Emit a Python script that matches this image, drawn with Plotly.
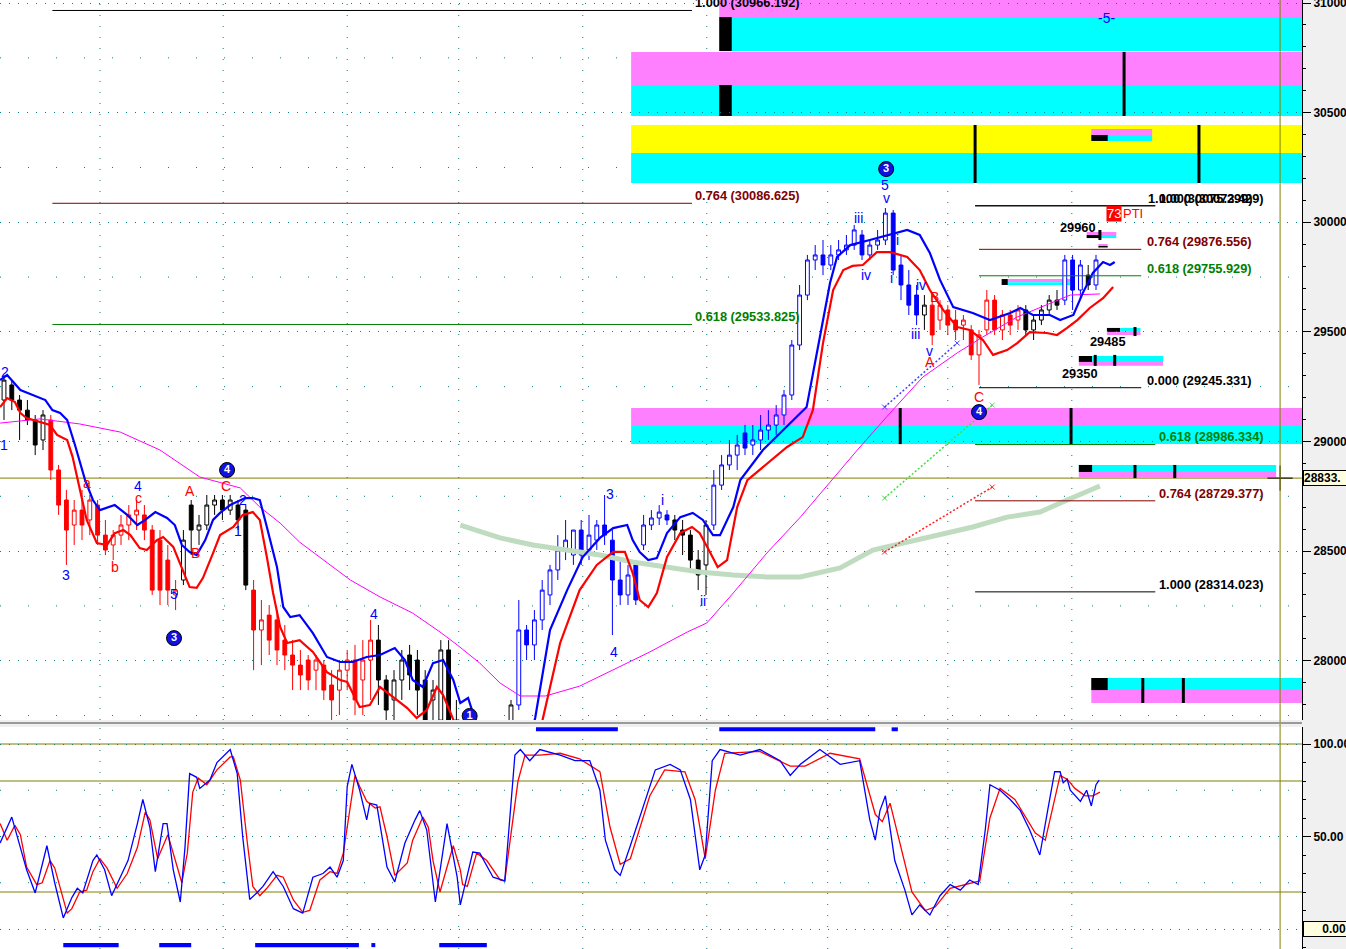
import plotly.graph_objects as go

# ---------------- price bars (bar index 0..140) ----------------
bar_open = [29189,29258,29189,29143,29098,29007,29098,28870,28733,28619,
            28687,28642,28710,28573,28528,28573,28619,28665,28665,28596,
            28550,28459,28300,28368,28710,28596,28619,28710,28733,28687,
            28710,28687,28322,28140,28208,28186,28094,28026,27980,28003,
            27957,27980,27889,27866,27957,28003,27912,28003,28094,27912,
            27821,27912,28026,28003,27912,27821,27729,28049,27729,27638,
            27547,27501,27524,27547,27593,27661,27798,28140,28072,28186,
            28300,28414,28505,28482,28596,28505,28550,28619,28550,28368,
            28300,28437,28528,28619,28651,28665,28642,28596,28573,28459,
            28437,28619,28801,28893,28938,29039,28984,29007,29052,29075,
            29121,29212,29440,29668,29828,29851,29805,29851,29874,29896,
            29942,29851,29896,29919,30042,29805,29714,29668,29577,29622,
            29554,29600,29554,29531,29509,29395,29509,29645,29509,29577,
            29554,29600,29509,29554,29600,29645,29645,29828,29691,29759,
            29714]
bar_high = [29303,29280,29212,29189,29121,29143,29121,28893,28779,28733,
            28779,28756,28733,28642,28596,28665,28710,28733,28710,28619,
            28596,28528,28368,28596,28733,28665,28756,28756,28756,28756,
            28733,28710,28368,28277,28254,28231,28163,28094,28049,28026,
            28026,28003,27957,28003,28049,28072,28094,28186,28163,27935,
            27957,28049,28072,28049,27957,27912,28094,28094,27821,27684,
            27593,27593,27615,27638,27707,27821,28277,28163,28231,28368,
            28437,28573,28642,28596,28642,28665,28642,28756,28596,28459,
            28437,28459,28665,28687,28710,28687,28665,28642,28596,28505,
            28642,28870,28938,29007,29030,29075,29075,29121,29143,29166,
            29235,29463,29714,29851,29896,29919,29896,29919,29942,29988,
            29965,29919,29965,30065,30056,29851,29782,29714,29668,29668,
            29645,29622,29600,29577,29531,29509,29691,29668,29600,29600,
            29622,29622,29577,29622,29668,29691,29851,29851,29828,29805,
            29851]
bar_low = [29098,29143,29007,29075,28938,28961,28824,28665,28437,28528,
           28550,28573,28528,28482,28459,28528,28550,28596,28550,28300,
           28254,28254,28231,28345,28482,28528,28596,28665,28642,28665,
           28596,28322,27957,27980,28026,27980,27957,27866,27866,27866,
           27866,27821,27729,27752,27866,27752,27752,27821,27798,27729,
           27729,27821,27866,27752,27707,27729,27684,27638,27547,27456,
           27410,27410,27433,27456,27547,27615,27775,28003,28003,28140,
           28254,28368,28459,28437,28437,28459,28505,28528,28117,28254,
           28254,28254,28505,28596,28619,28619,28550,28482,28414,28322,
           28300,28596,28779,28870,28870,28938,28938,28961,29007,29030,
           29075,29189,29417,29645,29782,29759,29782,29828,29851,29874,
           29828,29828,29874,29896,29759,29645,29577,29531,29509,29440,
           29509,29486,29463,29463,29372,29258,29486,29486,29463,29486,
           29509,29486,29463,29531,29577,29600,29622,29600,29645,29691,
           29691]
bar_close = [29280,29189,29143,29098,28984,29121,28870,28710,28596,28687,
             28619,28733,28573,28505,28573,28619,28665,28687,28596,28322,
             28322,28322,28322,28550,28596,28619,28710,28733,28687,28733,
             28642,28345,28140,28186,28094,28049,28026,27980,27935,27912,
             28003,27866,27821,27957,28003,27821,28003,28094,27912,27775,
             27912,28003,27935,27866,27729,27866,28049,27729,27638,27547,
             27501,27547,27570,27593,27661,27798,28140,28072,28186,28322,
             28414,28505,28550,28596,28482,28573,28619,28573,28368,28300,
             28391,28277,28619,28651,28678,28642,28596,28573,28459,28391,
             28619,28801,28893,28938,28984,28970,29007,29052,29075,29121,
             29212,29440,29668,29828,29851,29805,29851,29874,29896,29965,
             29851,29896,29919,30042,29782,29714,29622,29577,29622,29486,
             29622,29531,29509,29554,29395,29486,29645,29509,29577,29531,
             29600,29509,29554,29600,29645,29622,29828,29691,29805,29714,
             29828]
group_runs = [("K", 6), ("R", 17), ("K", 9), ("R", 16), ("K", 18), ("B", 20), ("K", 5),
              ("B", 27), ("K", 1), ("R", 12), ("K", 5), ("B", 3), ("K", 1), ("B", 1)]

# ---------------- overlay averages ----------------
ma_fast_idx = [-0.5,0.4,2.1,3.7,5.3,6.2,7.2,8.1,9.1,10.4,11.4,12.3,14.2,15.8,17.1,18.1,19.4,20.9,21.9,22.8,
               23.8,24.7,25.8,26.8,27.7,29.0,30.9,31.9,32.8,33.7,35.0,35.8,36.7,37.9,39.6,41.4,43.1,44.7,46.5,48.2,
               50.1,51.4,52.4,53.7,55.0,56.3,57.6,58.5,59.5,60.0,62.3,66.2,68.1,70.0,72.2,74.2,76.4,78.1,79.9,80.6,
               81.5,82.6,83.7,85.0,86.7,88.3,89.6,90.9,91.8,93.5,94.4,97.3,99.9,102.9,104.6,105.9,106.8,108.5,111.0,113.6,
               115.8,117.4,118.7,120.0,121.7,124.2,126.4,129.0,130.3,131.9,134.1,135.4,137.1,138.3,139.6,140.9,141.8,142.4]
ma_fast = [29280,29303,29235,29212,29189,29143,29130,29098,28984,28824,28733,28687,28710,28665,28619,28642,28678,28651,28619,28528,
           28496,28482,28550,28642,28674,28710,28742,28742,28733,28610,28427,28245,28199,28208,28126,28017,27994,27994,28017,28026,
           28058,28003,27912,27880,27989,28003,27912,27807,27830,27775,27547,27456,27739,28140,28322,28473,28560,28605,28619,28550,
           28496,28459,28468,28582,28655,28674,28642,28573,28573,28701,28824,28961,29052,29157,29477,29723,29842,29896,29919,29942,
           29965,29942,29860,29737,29613,29586,29554,29586,29609,29577,29577,29554,29577,29677,29769,29819,29805,29819]
ma_slow_idx = [-0.5,0.4,1.4,2.1,2.9,4.6,5.9,6.8,8.1,8.8,9.7,10.6,11.9,13.2,14.2,15.3,16.2,17.4,18.3,19.6,
               20.4,21.7,22.9,23.8,24.7,25.5,26.8,27.7,29.4,30.6,31.9,32.8,33.7,34.5,35.4,36.3,37.9,39.6,41.4,43.1,
               44.0,45.6,46.9,48.2,49.9,51.7,52.9,54.2,55.5,56.3,57.2,59.7,63.6,67.4,69.1,71.3,73.8,76.0,78.1,79.6,
               80.6,81.5,82.6,83.7,85.0,86.7,88.2,89.2,90.5,91.5,92.7,94.0,95.3,100.4,102.4,103.7,105.0,106.3,107.6,108.8,
               110.1,111.9,113.6,115.8,117.4,118.7,120.4,122.2,123.8,125.5,126.8,128.6,129.9,131.5,133.7,135.0,136.3,137.6,139.2,140.9,
               142.2]
ma_slow = [29157,29198,29180,29130,29107,29089,29075,29030,29007,28929,28792,28642,28537,28528,28582,28596,28573,28514,28505,28550,
           28564,28519,28414,28336,28332,28377,28491,28573,28610,28665,28678,28642,28473,28309,28154,28081,28094,28040,27948,27912,
           27903,27789,27798,27880,27834,27784,27739,27775,27880,27843,27766,27547,27364,27456,27739,28081,28322,28437,28496,28496,
           28400,28277,28245,28309,28473,28582,28610,28582,28496,28427,28459,28701,28824,28975,29020,29143,29449,29691,29782,29801,
           29805,29864,29864,29842,29782,29691,29600,29522,29509,29463,29395,29417,29449,29499,29495,29486,29518,29554,29609,29654,
           29705]
ma_long_idx = [-0.5,4.6,9.7,14.9,20.0,25.1,30.3,32.8,35.4,37.9,44.4,48.2,52.4,55.9,58.1,61.0,63.6,66.2,69.4,73.8,
               78.6,82.8,87.6,90.1,93.5,97.8,102.1,109.4,113.6,117.8,122.2,125.5,129.9,134.1,136.7,140.5]
ma_long = [29084,29103,29080,29043,28961,28838,28788,28701,28628,28541,28368,28291,28217,28131,28072,27989,27898,27839,27839,27884,
           27967,28040,28131,28172,28309,28491,28655,28961,29130,29294,29404,29477,29568,29632,29668,29673]
ma_trend_idx = [58.5,63.6,67.8,72.2,76.4,80.6,85.0,89.2,93.5,97.8,102.1,107.2,111.4,115.8,120.0,124.2,128.6,132.8,136.3,140.5]
ma_trend = [28619,28560,28528,28505,28482,28450,28427,28405,28391,28382,28382,28423,28505,28541,28573,28610,28655,28678,28733,28797]

# ---------------- stochastic ----------------
stoch_k_idx = [-0.5,1.0,2.1,2.9,4.0,4.6,5.5,6.5,7.6,8.7,9.4,10.1,11.4,11.9,12.9,13.8,14.9,15.9,17.1,17.8,
               18.7,19.4,20.4,20.9,21.7,22.6,23.2,23.8,24.7,25.1,26.4,27.3,29.0,29.9,30.6,31.5,32.4,33.2,34.5,35.8,
               37.1,38.3,39.6,40.9,41.8,42.7,43.5,44.0,44.6,45.6,46.5,46.9,47.8,49.1,50.1,51.4,52.7,53.3,54.2,55.3,
               56.8,58.1,58.5,60.1,61.0,62.7,64.2,65.5,66.2,67.4,68.7,71.3,73.2,75.1,76.4,77.1,78.3,79.0,80.3,82.2,
               83.5,85.4,86.7,88.0,89.2,89.9,90.8,91.8,94.4,96.9,99.5,100.8,102.1,104.6,107.2,109.7,111.0,111.7,112.3,113.0,
               114.2,115.5,116.4,117.4,118.7,120.0,121.3,122.6,123.8,124.9,125.8,126.4,127.7,129.0,130.3,131.5,132.8,133.8,134.7,135.4,
               135.8,136.3,136.7,138.0,138.8,139.4,140.0,140.4]
stoch_k = [46.5,60.5,44,32,19.5,30,45,25,6,17,22,19.5,37,40,32,18,28,37,57,70,
           55,31,57,57,32,14.6,44,84,82,76,80.5,90,97,84,50,16,19.5,23,31,23,
           11,8.6,28,30,33.5,28,37,77,89,75,59,68,67,33.5,25.5,46.5,59,64,53.5,14.6,
           57,28,13,41.6,41,28,26,94,97,91,97,94,91,91,75,48,32,29,45,70,
           86,89,86,70,32,40,91,97,94,97,91,83,89,97,89,91,59,48,64,72,
           37,21,7.6,13,7.6,18,24,21,26.5,24,53.5,78,75,70,64,53.5,40,64,85,85,
           79,81,75,69,75,66.5,78,80.5]
stoch_d_idx = [-0.5,0.4,1.4,2.1,2.9,4.2,4.9,5.9,6.5,7.4,8.1,8.7,9.7,10.6,11.4,12.3,13.2,14.5,15.8,17.1,
               18.1,18.7,19.7,21.0,21.7,22.8,23.5,24.2,24.9,26.0,27.3,29.0,29.4,30.3,31.2,31.9,32.8,33.7,35.0,35.8,
               37.1,38.3,39.2,40.5,41.8,42.7,43.5,44.4,45.0,45.6,46.5,47.6,48.2,49.1,50.1,51.7,52.4,53.7,54.4,55.0,
               55.9,56.8,57.6,58.5,58.8,59.4,60.6,61.9,63.6,64.2,65.9,66.8,68.7,71.3,73.8,76.4,77.7,79.0,80.3,82.8,
               84.7,87.3,88.6,89.9,91.2,92.4,96.9,100.8,102.7,105.9,109.7,111.7,112.6,113.6,114.9,116.4,118.1,119.4,121.3,123.2,
               125.1,126.4,127.7,129.6,132.2,133.5,135.4,136.3,137.3,138.6,139.6,140.5]
stoch_d = [57,48,56,51,33.5,24,25,37,33,19.5,8.6,11,20,21,31,38,33,22,30,44,
           63,59,38,51,41,25,41,74,81.6,78,86,93,93,80.5,46.5,23,18,22,29,28,
           15.7,9,10,26.5,31,30,41,66,83,77,69,65.4,66,50,29,35.7,48,60.5,55,37,
           20,33.5,45,32,24,23,41,37,26.5,26,80,94,94,95,92,85,55,35,38,72,
           86,85,70,38,75,95,96,88,88,95,92,62,58,68,45,20,10,12,22,24,
           26,60,76,70,52,48,83,81,76,72,72,74]

# ---------------- annotations: fib levels, zones, wave labels ----------------
fib_levels = [  # label, price, colour key, start idx, end idx, label idx
    ("1.000 (30966.192)", 30966.192, "k", 6.2, 88.2, 88.3),
    ("0.764 (30086.625)", 30086.625, "r", 6.2, 88.2, 88.3),
    ("0.618 (29533.825)", 29533.825, "g", 6.2, 88.2, 88.3),
    ("1.000 (30075.299)", 30075.299, "k", 124.5, 147.6, 146.4),
    ("1.000 (30073.429)", 30075.299, "k", 124.5, 147.6, 147.8),
    ("0.764 (29876.556)", 29876.556, "r", 125.0, 145.8, 146.3),
    ("0.618 (29755.929)", 29755.929, "g", 125.0, 145.8, 146.3),
    ("0.000 (29245.331)", 29245.331, "k", 125.0, 145.8, 146.3),
    ("0.618 (28986.334)", 28986.334, "g", 124.5, 147.6, 147.8),
    ("0.764 (28729.377)", 28729.377, "r", 124.5, 147.6, 147.8),
    ("1.000 (28314.023)", 28314.023, "k", 124.5, 147.6, 147.8),
]
zones = [  # x0, x1, low, high, colour key
    (91.7, 166.41, 30936, 31014, "p"), (91.7, 166.41, 30781, 30936, "c"), (91.7, 93.3, 30781, 30936, "k"),
    (80.4, 166.41, 30626, 30777, "p"), (80.4, 166.41, 30485, 30626, "c"), (91.7, 93.3, 30485, 30626, "k"),
    (80.4, 166.41, 30316, 30444, "y"), (80.4, 166.41, 30179, 30316, "c"),
    (139.4, 147.2, 30398, 30426, "p"), (139.4, 147.2, 30371, 30398, "c"), (139.4, 141.5, 30371, 30398, "k"),
    (80.4, 166.41, 29071, 29153, "p"), (80.4, 166.41, 28988, 29071, "c"),
    (137.8, 163.1, 28861, 28893, "c"), (137.8, 163.1, 28833, 28861, "p"), (137.8, 139.5, 28861, 28893, "k"),
    (139.4, 166.41, 27866, 27921, "c"), (139.4, 166.41, 27807, 27866, "p"), (139.4, 141.5, 27866, 27921, "k"),
    (141.4, 143.1, 29500, 29518, "k"), (143.1, 145.7, 29500, 29518, "c"), (141.4, 145.7, 29486, 29500, "p"),
    (137.8, 139.5, 29363, 29390, "k"), (139.5, 148.6, 29363, 29390, "c"), (137.8, 148.6, 29345, 29363, "p"),
    (138.8, 142.6, 29942, 29956, "p"), (138.8, 140.6, 29928, 29942, "k"), (140.6, 142.6, 29928, 29942, "c"),
    (140.3, 141.5, 29892, 29901, "p"), (140.3, 141.5, 29885, 29892, "k"),
    (127.9, 128.7, 29714, 29741, "k"), (128.7, 137.1, 29727, 29741, "p"), (128.7, 137.1, 29714, 29727, "c"),
]
zone_marks = [  # idx, low, high
    (143.6, 30485, 30777), (124.5, 30179, 30444), (153.2, 30179, 30444),
    (114.9, 28988, 29153), (136.8, 28988, 29153),
    (145.0, 28833, 28893), (150.1, 28833, 28893),
    (146.0, 27807, 27921), (151.2, 27807, 27921),
    (145.0, 29481, 29522), (139.9, 29345, 29395), (142.4, 29345, 29395), (140.5, 29919, 29965),
]
trend_rays = [  # x0, p0, x1, p1, colour
    (112.9, 29157, 122.2, 29449, "#4040ff"),
    (112.9, 28742, 126.7, 29166, "#40e040"),
    (112.9, 28496, 126.7, 28792, "#ff2020"),
]
wave_labels = [  # text, idx, price, colour key
    ("2", 0.1, 29317, "b"), ("1", 0.0, 28984, "b"), ("3", 7.9, 28391, "b"), ("4", 17.2, 28797, "b"),
    ("5", 21.8, 28304, "b"), ("2", 30.6, 28733, "b"), ("1", 30.0, 28591, "b"), ("4", 47.4, 28213, "b"),
    ("3", 77.7, 28760, "b"), ("4", 78.2, 28040, "b"), ("i", 84.4, 28733, "b"), ("ii", 89.6, 28272, "b"),
    ("iii", 109.5, 30019, "b"), ("iv", 110.5, 29759, "b"), ("5", 112.9, 30170, "b"), ("v", 113.1, 30111, "b"),
    ("i", 114.6, 29919, "b"), ("i", 113.8, 29746, "b"), ("iv", 117.5, 29714, "b"), ("iii", 116.8, 29490, "b"),
    ("v", 118.7, 29413, "b"), ("-5-", 141.3, 30932, "b"),
    ("a", 10.6, 28811, "r"), ("b", 14.2, 28427, "r"), ("c", 17.3, 28742, "r"), ("A", 23.8, 28774, "r"),
    ("B", 24.5, 28491, "r"), ("C", 28.5, 28797, "r"), ("B", 119.3, 29659, "r"), ("A", 118.7, 29363, "r"),
    ("C", 125.0, 29203, "r"),
]
wave_circles = [("3", 21.8, 28103), ("4", 28.6, 28870), ("1", 59.7, 27748), ("3", 113.1, 30243), ("4", 125.0, 29134)]
price_notes = [("29960", 140.3, 29978, "right"), ("29485", 141.5, 29458, "center"), ("29350", 137.9, 29308, "center")]
signal_bars_top = [(68.2, 78.7), (91.7, 111.7), (113.8, 114.6)]
signal_bars_bottom = [(7.6, 14.7), (19.9, 24.0), (32.2, 45.5), (47.1, 47.6), (55.8, 61.9)]
grid_idx = [12.3, 28.1, 44.0, 58.3, 74.2, 90.1, 105.6, 121.0, 136.9]
last_price = 28833
cursor_idx = 163.6

# ---------------- styling ----------------
COL = {"k": "#000000", "r": "#800000", "g": "#008000", "p": "#ff80ff", "c": "#00ffff", "y": "#ffff00",
       "b": "#0000ff"}
WAVE = {"b": "#0000ff", "r": "#ff0000"}
CANDLE = {"K": "#000000", "R": "#ff0000", "B": "#0000ff"}
TEAL = "#008080"
OLIVE = "#808000"
X_RANGE = [-0.513, 166.41]
P_RANGE = [27729.5, 31014]
S_RANGE = [-10.81, 109.19]
W, H = 1346, 949
PLOT_R = 1302

bar_group = []
for g, n in group_runs:
    bar_group += [g] * n

fig = go.Figure()

# averages under the bars
fig.add_trace(go.Scatter(x=ma_trend_idx, y=ma_trend, mode="lines", line=dict(color="#c0dcc0", width=5),
                         hoverinfo="skip", showlegend=False))
fig.add_trace(go.Scatter(x=ma_long_idx, y=ma_long, mode="lines", line=dict(color="#ff00ff", width=1),
                         hoverinfo="skip", showlegend=False))

for g, col in CANDLE.items():
    sel = [i for i in range(len(bar_close)) if bar_group[i] == g]
    fig.add_trace(go.Candlestick(
        x=sel, open=[bar_open[i] for i in sel], high=[bar_high[i] for i in sel],
        low=[bar_low[i] for i in sel], close=[bar_close[i] for i in sel],
        increasing=dict(line=dict(color=col, width=1), fillcolor="#ffffff"),
        decreasing=dict(line=dict(color=col, width=1), fillcolor=col),
        whiskerwidth=0, hoverinfo="skip", showlegend=False))

fig.add_trace(go.Scatter(x=ma_slow_idx, y=ma_slow, mode="lines", line=dict(color="#ff0000", width=2.2),
                         hoverinfo="skip", showlegend=False))
fig.add_trace(go.Scatter(x=ma_fast_idx, y=ma_fast, mode="lines", line=dict(color="#0000ff", width=2.2),
                         hoverinfo="skip", showlegend=False))

for x0, p0, x1, p1, c in trend_rays:
    fig.add_trace(go.Scatter(x=[x0, x1], y=[p0, p1], mode="lines+markers",
                             line=dict(color=c, width=1.5, dash="2px,2px"),
                             marker=dict(symbol="x-thin", size=5, line=dict(color=c, width=1)),
                             hoverinfo="skip", showlegend=False))

fig.add_trace(go.Scatter(x=[c[1] for c in wave_circles], y=[c[2] for c in wave_circles],
                         text=[c[0] for c in wave_circles], mode="markers+text",
                         marker=dict(size=15, color="#1010e0", line=dict(color="#000000", width=1)),
                         textfont=dict(color="#ffffff", size=11, family="Arial", weight="bold"),
                         textposition="middle center", hoverinfo="skip", showlegend=False))

fig.add_trace(go.Scatter(x=[cursor_idx], y=[last_price], mode="markers",
                         marker=dict(symbol="cross-thin", size=18, line=dict(color="#000000", width=1)),
                         hoverinfo="skip", showlegend=False))

# stochastic
fig.add_trace(go.Scatter(x=stoch_d_idx, y=stoch_d, mode="lines", line=dict(color="#ff0000", width=1.3),
                         xaxis="x2", yaxis="y2", hoverinfo="skip", showlegend=False))
fig.add_trace(go.Scatter(x=stoch_k_idx, y=stoch_k, mode="lines", line=dict(color="#0000ff", width=1.3),
                         xaxis="x2", yaxis="y2", hoverinfo="skip", showlegend=False))

shapes = []
for x0, x1, lo, hi, c in zones:
    shapes.append(dict(type="rect", xref="x", yref="y", x0=x0, x1=x1, y0=lo, y1=hi,
                       fillcolor=COL[c], line=dict(width=0), layer="below"))
for xi, lo, hi in zone_marks:
    shapes.append(dict(type="line", xref="x", yref="y", x0=xi, x1=xi, y0=lo, y1=hi,
                       line=dict(color="#000000", width=3), layer="above"))
for gx in grid_idx:
    for yr in ("y domain", "y2 domain"):
        shapes.append(dict(type="line", xref="x", yref=yr, x0=gx, x1=gx, y0=0, y1=1,
                           line=dict(color=TEAL, width=1, dash="1px,10px"), layer="below"))
for p in (30750, 30250, 29750, 29250, 28750, 28250, 27750):
    shapes.append(dict(type="line", xref="x domain", yref="y", x0=0, x1=1, y0=p, y1=p,
                       line=dict(color=TEAL, width=1, dash="1px,27px"), layer="below"))
for s in (25, 75):
    shapes.append(dict(type="line", xref="x domain", yref="y2", x0=0, x1=1, y0=s, y1=s,
                       line=dict(color=TEAL, width=1, dash="1px,27px"), layer="below"))
for label, p, c, x0, x1, lx in fib_levels:
    shapes.append(dict(type="line", xref="x", yref="y", x0=x0, x1=x1, y0=p, y1=p,
                       line=dict(color=COL[c], width=1), layer="above"))
for s in (20, 80, 100):
    shapes.append(dict(type="line", xref="x domain", yref="y2", x0=0, x1=1, y0=s, y1=s,
                       line=dict(color=OLIVE, width=1.2), layer="below"))
shapes.append(dict(type="line", xref="x domain", yref="y", x0=0, x1=1, y0=last_price, y1=last_price,
                   line=dict(color=OLIVE, width=1), layer="below"))
shapes.append(dict(type="line", xref="x", yref="paper", x0=cursor_idx, x1=cursor_idx, y0=0, y1=1,
                   line=dict(color=OLIVE, width=1), layer="above"))
for x0, x1 in signal_bars_top:
    shapes.append(dict(type="rect", xref="x", yref="y2", x0=x0, x1=x1, y0=106.9, y1=109.0,
                       fillcolor="#0000ff", line=dict(width=0)))
for x0, x1 in signal_bars_bottom:
    shapes.append(dict(type="rect", xref="x", yref="y2", x0=x0, x1=x1, y0=-9.8, y1=-7.6,
                       fillcolor="#0000ff", line=dict(width=0)))
shapes.append(dict(type="line", xref="paper", yref="paper", x0=0, x1=1,
                   y0=1 - 723 / H, y1=1 - 723 / H, line=dict(color="#9a9a9a", width=2)))

annotations = []
for label, p, c, x0, x1, lx in fib_levels:
    annotations.append(dict(x=lx, y=p, xref="x", yref="y", text=label, showarrow=False,
                            xanchor="left", yanchor="bottom", yshift=-2,
                            font=dict(color=COL[c], size=12.8, family="Arial", weight="bold")))
for t, xi, p, c in wave_labels:
    annotations.append(dict(x=xi, y=p, xref="x", yref="y", text=t, showarrow=False,
                            font=dict(color=WAVE[c], size=14, family="Arial")))
for t, xi, p, anc in price_notes:
    annotations.append(dict(x=xi, y=p, xref="x", yref="y", text=t, showarrow=False, xanchor=anc,
                            font=dict(color="#000000", size=12.8, family="Arial", weight="bold")))
annotations.append(dict(x=142.3, y=30042, xref="x", yref="y", text="73", showarrow=False, bgcolor="#ff0000",
                        borderpad=0, font=dict(color="#ffffff", size=13, family="Arial")))
annotations.append(dict(x=143.2, y=30042, xref="x", yref="y", text="PTI", showarrow=False, xanchor="left",
                        font=dict(color="#ff0000", size=13, family="Arial")))
annotations.append(dict(x=1.0, y=last_price, xref="paper", yref="y", text=str(last_price) + ".",
                        showarrow=False, xanchor="left", xshift=1, width=46, align="left", bgcolor="#ffffe0",
                        bordercolor="#000000", borderwidth=1, borderpad=0,
                        font=dict(color="#000000", size=12, family="Arial", weight="bold")))
annotations.append(dict(x=1.0, y=0, xref="paper", yref="y2", text="0.00",
                        showarrow=False, xanchor="left", xshift=1, width=42, align="right", bgcolor="#ffffe0",
                        bordercolor="#000000", borderwidth=1, borderpad=0,
                        font=dict(color="#000000", size=12, family="Arial", weight="bold")))

tickfont = dict(family="Arial", size=12, color="#000000", weight="bold")
fig.update_layout(
    width=W, height=H, autosize=False,
    margin=dict(l=0, r=W - PLOT_R, t=0, b=0, pad=0, autoexpand=False),
    paper_bgcolor="#f0f0f0", plot_bgcolor="#ffffff",
    font=dict(family="Arial", size=12, color="#000000"),
    showlegend=False, hovermode=False,
    shapes=shapes, annotations=annotations,
    xaxis=dict(domain=[0, 1], range=X_RANGE, anchor="y", showgrid=False, zeroline=False,
               showticklabels=False, ticks="", rangeslider=dict(visible=False), fixedrange=True,
               automargin=False),
    xaxis2=dict(domain=[0, 1], range=X_RANGE, anchor="y2", matches="x", showgrid=False,
                zeroline=False, showticklabels=False, ticks="", fixedrange=True, automargin=False),
    yaxis=dict(domain=[1 - 720 / H, 1], range=P_RANGE, anchor="x", side="right", dtick=500, tick0=0,
               tickformat="d", automargin=False, ticklabeloverflow="allow",
               showgrid=True, gridcolor=TEAL, griddash="1px,8px", gridwidth=1, zeroline=False,
               ticks="outside", ticklen=8, tickcolor="#000000", tickfont=tickfont,
               showline=True, linecolor="#000000", linewidth=1, fixedrange=True,
               minor=dict(dtick=100, ticks="outside", ticklen=3, tickcolor="#000000", showgrid=False)),
    yaxis2=dict(domain=[0, 1 - 727 / H], range=S_RANGE, anchor="x2", side="right", dtick=50, tick0=0,
                tickformat=".2f", automargin=False, ticklabeloverflow="allow",
                showgrid=True, gridcolor=TEAL, griddash="1px,8px", gridwidth=1,
                zeroline=False, ticks="outside", ticklen=8, tickcolor="#000000", tickfont=tickfont,
                showline=True, linecolor="#000000", linewidth=1, fixedrange=True,
                minor=dict(dtick=10, ticks="outside", ticklen=3, tickcolor="#000000", showgrid=False)),
)

fig.write_html("out.html", config={"displayModeBar": False},
               post_script="document.body.style.margin='0px';")
